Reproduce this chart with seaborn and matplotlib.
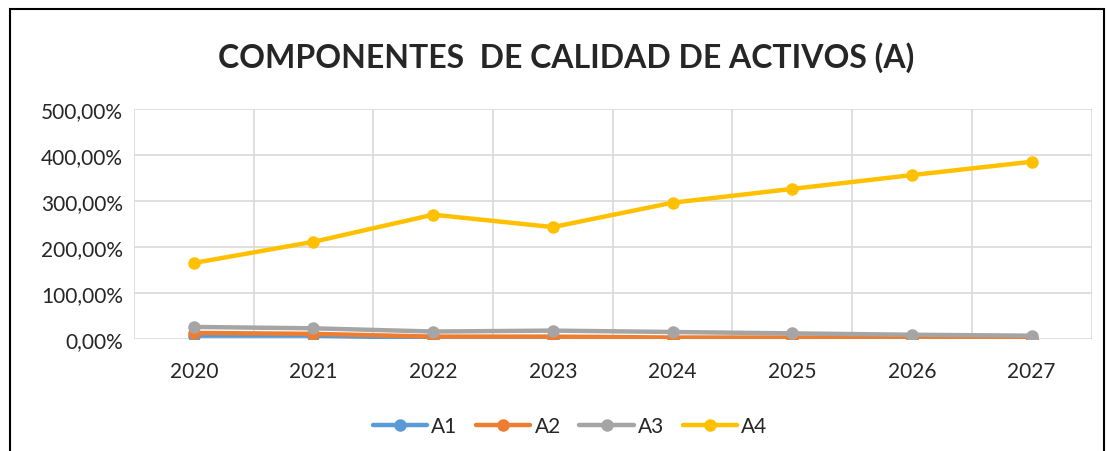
import numpy as np
import pandas as pd
import seaborn as sns
from matplotlib import pyplot as plt
from matplotlib.patches import Rectangle
from matplotlib.ticker import FuncFormatter, MultipleLocator

years = [2020, 2021, 2022, 2023, 2024, 2025, 2026, 2027]
a1 = [7, 7, 2, 2, 0.5, 0.5, 0, 0.3]
a2 = [13, 11, 5, 5, 3, 3, 1, 0]
a3 = [26, 23, 16, 18, 15, 12, 9, 7]
a4 = [165, 211, 270, 243, 296, 326, 356, 385]
series = ["A1", "A2", "A3", "A4"]
colors = ["#5B9BD5", "#ED7D31", "#A5A5A5", "#FFC000"]

df = pd.DataFrame({"year": years * 4,
                   "value": a1 + a2 + a3 + a4,
                   "serie": np.repeat(series, len(years))})

sns.set_style("white")
plt.rcParams['font.family'] = ['Lato', 'DejaVu Sans']

fig = plt.figure(figsize=(11.07, 4.52), dpi=100)
ax = fig.add_axes([0.121, 0.248, 0.865, 0.509])

sns.lineplot(data=df, x="year", y="value", hue="serie", palette=colors,
             marker="o", markersize=9, markeredgewidth=0, linewidth=3.2,
             ax=ax, legend=True)

ax.set_xlim(2019.5, 2027.5)
ax.set_ylim(0, 500)
ax.set_xticks(years)
ax.set_xticks(np.arange(2019.5, 2028, 1), minor=True)
ax.yaxis.set_major_locator(MultipleLocator(100))
ax.yaxis.set_major_formatter(FuncFormatter(lambda v, p: f"{v:.2f}%".replace(".", ",")))
ax.grid(True, axis="y", which="major", color="#D9D9D9", linewidth=1.2)
ax.grid(True, axis="x", which="minor", color="#D9D9D9", linewidth=1.2)
ax.grid(False, axis="x", which="major")
ax.tick_params(axis="both", which="both", length=0, labelsize=15, pad=8)
ax.tick_params(axis="x", pad=16)
ax.set_xlabel("")
ax.set_ylabel("")
for s in ax.spines.values():
    s.set_visible(False)

handles, labels = ax.get_legend_handles_labels()
ax.legend_.remove()
fig.legend(handles, labels, loc="center", bbox_to_anchor=(0.515, 0.055), ncol=4,
           frameon=False, fontsize=15, handlelength=2.6, columnspacing=0.9,
           handletextpad=0.2)

fig.text(0.511, 0.873, "COMPONENTES  DE CALIDAD DE ACTIVOS (A)", ha="center",
         va="center", fontsize=23, fontweight="bold")

fig.patches.append(Rectangle((10 / 1107, -0.1), 1094 / 1107, 1.1 - 10 / 452,
                             transform=fig.transFigure, fill=False,
                             edgecolor="black", linewidth=1.5))

fig.savefig("out.png", dpi=100)
